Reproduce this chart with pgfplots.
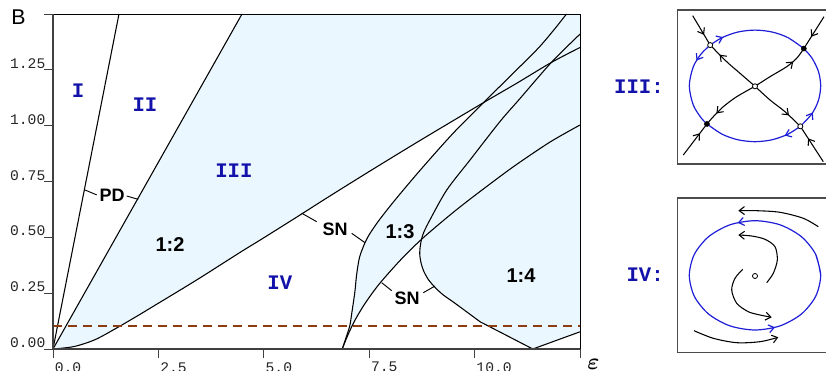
\documentclass[border=0pt]{standalone}
\usepackage{pgfplots}
\pgfplotsset{compat=1.18}
\usepackage{amsmath}
\usepackage{fontspec}
\setmainfont{Liberation Sans}
\newfontfamily\monofont{Liberation Mono}
\usetikzlibrary{decorations.markings, arrows.meta}
\definecolor{lblue}{RGB}{235,247,254}
\definecolor{lab}{RGB}{18,18,170}
\definecolor{ell}{RGB}{30,30,215}
\definecolor{brn}{RGB}{140,60,15}
\tikzset{
  barb/.tip={Straight Barb[length=4pt,width=6pt]},
  arr/.style={postaction={decorate}, decoration={markings, mark=at position #1 with {\arrow{barb}}}},
  arrr/.style 2 args={postaction={decorate}, decoration={markings, mark=at position #1 with {\arrow{barb}}, mark=at position #2 with {\arrow{barb}}}},
}
\pgfplotsset{inset/.style={scale only axis, width=114.375pt, xmin=677.5, xmax=830, y dir=reverse,
  xtick=\empty, ytick=\empty, axis line style={black!70, line width=1.1pt}, clip=true}}
\newcommand\rlab{\monofont\bfseries\fontsize{15.5}{15.5}\selectfont}
\begin{document}
\begin{tikzpicture}[x=0.75pt,y=0.75pt]
\begin{axis}[
  at={(39.75pt,16.5pt)}, anchor=south west, scale only axis, width=395.25pt, height=251.25pt,
  xmin=0, xmax=12.5, ymin=0, ymax=1.5, enlargelimits=false, clip=false, axis on top,
  axis x line=bottom, axis y line=left,
  axis line style={-, line width=1.5pt, black!75},
  xtick={0,2.5,5,7.5,10,12.5}, xticklabels={0.0,2.5,5.0,7.5,10.0,{}},
  ytick={0,0.25,0.5,0.75,1,1.25,1.5}, yticklabels={0.00,0.25,0.50,0.75,1.00,1.25,{}},
  tick align=outside, major tick length=6.75pt,
  tick style={black!75, line width=0.6pt},
  ticklabel style={font=\monofont\fontsize{11}{11}\selectfont, text=black!85, inner sep=0pt},
  xticklabel style={anchor=north west, xshift=1.2pt, yshift=-3pt},
  yticklabel style={anchor=south east, xshift=1.2pt, yshift=0.8pt},
]
% fills
\addplot[fill=lblue, draw=none] coordinates {(0,0) (4.483,1.5) (12.5,1.5) (12.5,0)} -- cycle;
\addplot[fill=white, draw=none] coordinates {(0,0) (0.5,0.011) (1.0,0.042) (1.5,0.093) (2.0,0.148) (2.5,0.205) (3.0,0.262) (3.5,0.32) (4.0,0.38) (4.5,0.44) (5.0,0.498) (5.86,0.60) (6.5,0.677) (7.52,0.797) (8.70,0.933) (10.21,1.103)
  (9.49,0.966) (8.78,0.816) (8.31,0.712) (8.03,0.648) (7.74,0.578) (7.52,0.518) (7.40,0.476) (7.27,0.41) (7.20,0.33) (7.16,0.256) (7.08,0.152) (7.03,0.097) (6.86,0)} -- cycle;
\addplot[fill=white, draw=none] coordinates {(6.86,0) (7.00,0.065) (7.16,0.128) (7.36,0.192) (7.58,0.252) (7.80,0.305) (8.25,0.400) (8.74,0.491)
  (8.705,0.45) (8.70,0.42) (8.73,0.385) (8.79,0.35) (8.9,0.312) (9.05,0.278) (9.25,0.243) (9.49,0.211) (9.8,0.168) (10.13,0.122) (11.38,0) (12.5,0.077) (12.5,0)} -- cycle;
% curves
\addplot[black, line width=0.8pt] coordinates {(0,0) (1.565,1.5)};
\addplot[black, line width=0.8pt] coordinates {(0,0) (4.483,1.5)};
\addplot[black, line width=0.8pt, smooth] coordinates {(0,0) (0.5,0.011) (1.0,0.042) (1.5,0.093) (2.0,0.148) (2.5,0.205) (3.0,0.262) (3.5,0.32) (4.0,0.38) (4.5,0.44) (5.0,0.498) (5.86,0.60) (6.5,0.677) (7.52,0.797) (8.70,0.933) (10.21,1.103) (11.0,1.19) (11.82,1.283) (12.5,1.35)};
\addplot[black, line width=0.8pt, smooth] coordinates {(6.86,0) (7.03,0.097) (7.08,0.152) (7.16,0.256) (7.20,0.33) (7.27,0.41) (7.40,0.476) (7.52,0.518) (7.74,0.578) (8.03,0.648) (8.31,0.712) (8.78,0.816) (9.49,0.966) (10.21,1.103) (10.9,1.232) (11.5,1.345) (11.86,1.424) (12.18,1.5)};
\addplot[black, line width=0.8pt, smooth] coordinates {(6.86,0) (7.00,0.065) (7.16,0.128) (7.36,0.192) (7.58,0.252) (7.80,0.305) (8.25,0.400) (8.74,0.491) (9.34,0.588) (9.85,0.665) (10.6,0.772) (11.07,0.836) (11.8,0.928) (12.5,1.003)};
\addplot[black, line width=0.8pt, smooth] coordinates {(12.5,1.41) (11.82,1.283) (11.07,1.12) (10.6,1.018) (9.89,0.846) (9.34,0.712) (8.94,0.578) (8.80,0.525) (8.74,0.491) (8.705,0.45) (8.70,0.42) (8.73,0.385) (8.79,0.35) (8.9,0.312) (9.05,0.278) (9.25,0.243) (9.49,0.211) (9.8,0.168) (10.13,0.122)};
\addplot[black, line width=0.8pt] coordinates {(10.13,0.122) (11.38,0) (12.5,0.077)};
% pointers
\addplot[black, line width=0.7pt] coordinates {(0.759,0.712) (1.037,0.690)};
\addplot[black, line width=0.7pt] coordinates {(1.748,0.685) (2.023,0.670)};
\addplot[black, line width=0.7pt] coordinates {(5.899,0.608) (6.255,0.570)};
\addplot[black, line width=0.7pt] coordinates {(7.085,0.518) (7.40,0.476)};
\addplot[black, line width=0.7pt] coordinates {(7.796,0.297) (8.034,0.261)};
\addplot[black, line width=0.7pt] coordinates {(8.783,0.252) (9.061,0.282)};
% dashed
\addplot[brn, line width=1.5pt, dash pattern=on 6.75pt off 4.5pt] coordinates {(0,0.105) (12.5,0.105)};
% frame top/right
\draw[black, line width=0.7pt] (axis cs:0,1.5) -- (axis cs:12.5,1.5) -- (axis cs:12.5,0);
% labels
\node[font=\bfseries\fontsize{13.5}{13.5}\selectfont] at (axis cs:1.40,0.690) {PD};
\node[font=\bfseries\fontsize{13.5}{13.5}\selectfont] at (axis cs:6.69,0.537) {SN};
\node[font=\bfseries\fontsize{13.5}{13.5}\selectfont] at (axis cs:8.40,0.228) {SN};
\node[font=\bfseries\fontsize{15}{15}\selectfont] at (axis cs:2.775,0.466) {1:2};
\node[font=\bfseries\fontsize{15}{15}\selectfont] at (axis cs:8.23,0.524) {1:3};
\node[font=\bfseries\fontsize{15}{15}\selectfont] at (axis cs:11.10,0.327) {1:4};
\node[font=\rlab, text=lab] at (axis cs:0.593,1.155) {I};
\node[font=\rlab, text=lab] at (axis cs:2.18,1.093) {II};
\node[font=\rlab, text=lab] at (axis cs:4.29,0.80) {III};
\node[font=\rlab, text=lab] at (axis cs:5.38,0.296) {IV};
\end{axis}
% outside labels
\node[font=\fontsize{16}{16}\selectfont, anchor=base west, inner sep=0pt] at (11,346) {B};
\node[anchor=north west, inner sep=0pt] at (587,12) {\fontsize{17}{17}\selectfont$\boldsymbol{\varepsilon}$};
\node[font=\rlab, text=lab, anchor=east, inner sep=0pt] at (664,284) {III:};
\node[font=\rlab, text=lab, anchor=east, inner sep=0pt] at (664,96) {IV:};
% inset III
\begin{axis}[inset, at={(508.125pt,155.25pt)}, anchor=south west, height=115.5pt, ymin=10, ymax=164]
\addplot[ell, line width=0.9pt, smooth, arr=0.15] coordinates {(710.19,45.09) (722.15,37.58) (738.0,32.0) (755,30.1) (772.0,32.0) (787.85,37.58) (803.82,48.56)};
\addplot[ell, line width=0.9pt, smooth, arr=0.23] coordinates {(710.19,45.09) (701.18,53.89) (693.26,66.82) (689.3,85.9) (693.26,104.98) (701.18,117.91) (706.95,123.96)};
\addplot[ell, line width=0.9pt, smooth, arr=0.18] coordinates {(800.31,126.31) (787.85,134.22) (772.0,139.8) (755,141.7) (738.0,139.8) (722.15,134.22) (706.95,123.96)};
\addplot[ell, line width=0.9pt, smooth, arr=0.21] coordinates {(800.31,126.31) (811.90,113.8) (818.46,100.34) (820.7,85.9) (818.46,71.46) (811.90,58.0) (803.82,48.56)};
\addplot[black, line width=0.8pt, arr=0.65] coordinates {(692.7,15.7) (710.19,45.09)};
\addplot[black, line width=0.8pt, arr=0.63] coordinates {(824,16.7) (803.82,48.56)};
\addplot[black, line width=0.8pt, arr=0.7] coordinates {(683.3,155) (706.95,123.96)};
\addplot[black, line width=0.8pt, arr=0.66] coordinates {(823.3,161.7) (800.31,126.31)};
\addplot[black, line width=0.8pt, smooth, arr=0.78] coordinates {(755,86.3) (740,73.3) (726.7,61.7) (710.19,45.09)};
\addplot[black, line width=0.8pt, smooth, arr=0.74] coordinates {(755,86.3) (770,100) (785,111.7) (800.31,126.31)};
\addplot[black, line width=0.8pt, smooth, arr=0.73] coordinates {(755,86.3) (770,76.7) (786.7,66.7) (796.7,58.3) (803.82,48.56)};
\addplot[black, line width=0.8pt, smooth, arr=0.77] coordinates {(755,86.3) (736.7,96.7) (723.3,106.7) (713.3,116.7) (706.95,123.96)};
\addplot[only marks, mark=*, mark size=1.9pt, mark options={fill=white, draw=black, line width=0.6pt}] coordinates {(710.19,45.09) (800.31,126.31) (755,86.3)};
\addplot[only marks, mark=*, mark size=1.9pt, mark options={fill=black, draw=black}] coordinates {(803.82,48.56) (706.95,123.96)};
\end{axis}
% inset IV
\begin{axis}[inset, at={(508.125pt,13.875pt)}, anchor=south west, height=115.875pt, ymin=198, ymax=352.5]
\addplot[ell, line width=0.9pt, smooth, arrr={0.28}{0.76}] coordinates {(820.7,275.35) (815.7,254.44) (801.46,236.71) (780.14,224.86) (755,220.7) (729.86,224.86) (708.54,236.71) (694.3,254.44) (689.3,275.35) (694.3,296.26) (708.54,313.99) (729.86,325.84) (755,330) (780.14,325.84) (801.46,313.99) (815.7,296.26) (820.7,275.35) (815.7,254.44)};
\addplot[black, line width=0.8pt, smooth, -barb] coordinates {(818.3,226.7) (803.3,218.3) (780,212.3) (756.7,210.7) (738.3,210.7)};
\addplot[black, line width=0.8pt, smooth, -barb] coordinates {(694,330.7) (713.3,338.3) (736.7,342.7) (760,341.7) (778.3,337.3)};
\addplot[black, line width=0.8pt, smooth, -barb] coordinates {(766.7,282.7) (773.3,273.3) (777.3,260) (775,246.7) (765,239.3) (751.7,236) (738.3,235)};
\addplot[black, line width=0.8pt, smooth, -barb] coordinates {(742.7,269.3) (735,278.3) (731.7,290) (736.7,303.3) (748.3,311.7) (760,315) (771.7,317.3)};
\addplot[only marks, mark=*, mark size=1.9pt, mark options={fill=white, draw=black, line width=0.6pt}] coordinates {(755,276)};
\end{axis}
\pgfresetboundingbox
\path[use as bounding box] (0,0) rectangle (826,371);
\end{tikzpicture}
\end{document}
